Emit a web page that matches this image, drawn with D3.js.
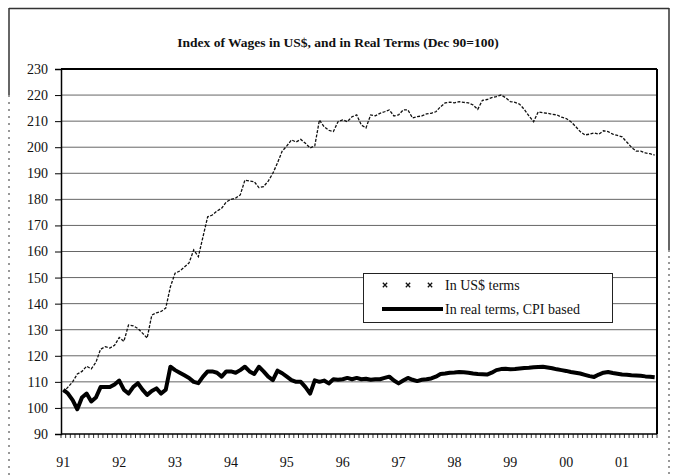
<!DOCTYPE html>
<html>
<head>
<meta charset="utf-8">
<script src="https://cdn.jsdelivr.net/npm/d3@7"></script>
<style>
  html, body { margin: 0; padding: 0; background: #ffffff; }
  svg { display: block; }
</style>
</head>
<body>
<div id="chart"></div>
<script>
// monthly index, Jan 91 .. Aug 01 (128 months)
const yearLabels = ["91", "92", "93", "94", "95", "96", "97", "98", "99", "00", "01"];
const yTicks = [90, 100, 110, 120, 130, 140, 150, 160, 170, 180, 190, 200, 210, 220, 230];

const usdIndex = [
  106, 108, 110, 113, 114, 116, 115, 117.5, 122.5, 123.5, 123, 124,
  127, 125.5, 131.8, 131.5, 130.5, 128.7, 126.8, 135.6, 136.5, 137, 138.3, 146.5,
  151.7, 152.5, 154, 155.6, 160.6, 158, 165.7, 173.3, 174, 175.5, 176.6, 179,
  180, 180.5, 181.7, 187.4, 187, 186.8, 184.5, 184.9, 187, 190, 194, 198.5,
  200.5, 202.8, 202, 203, 201.5, 199.7, 200.5, 210.4, 207.9, 206.5, 206, 209.8,
  210.5, 209.8, 211.7, 212.4, 208.5, 207.4, 212.4, 212, 213, 213.6, 214.3, 212,
  212.4, 214.3, 214.3, 211.2, 211.7, 212, 212.8, 213, 213.6, 215.5, 217, 217.3,
  217, 217.5, 217.2, 217, 216.2, 214.5, 218, 218.3, 219, 219.4, 220, 219,
  217.5, 217.2, 216.5, 214.5, 212, 209.8, 213.6, 213.2, 213, 212.6, 212.4, 211.5,
  211, 209.8, 208, 206, 204.7, 205, 205.5, 205, 206.3, 206, 205, 204.5,
  204, 202, 200, 198.5, 198.5, 197.8, 197.5, 197
];

const realIndex = [
  107, 105.5, 103, 99.5, 104, 105.5, 102.5, 104, 108, 108, 108, 109,
  110.5, 107, 105.5, 108, 109.5, 107, 105, 106.5, 107.5, 105.5, 107, 115.8,
  114.5, 113.5, 112.5, 111.5, 110, 109.5, 112, 114, 114, 113.5, 112, 114,
  114, 113.5, 114.5, 115.8, 114, 113, 115.8, 114, 112, 110.7, 114.3, 113.3,
  112, 110.7, 110, 110, 108, 105.5, 110.6, 110, 110.5, 109.4, 111, 110.8,
  111, 111.5, 111, 111.5, 111, 111.2, 110.8, 111, 111, 111.5, 112, 110.5,
  109.4, 110.5, 111.5, 110.8, 110.3, 110.8, 111, 111.3, 112, 113, 113.2, 113.5,
  113.6, 113.8, 113.7, 113.5, 113.2, 113, 112.9, 112.8, 113.5, 114.5, 114.9, 115,
  114.8, 114.9, 115.1, 115.3, 115.4, 115.6, 115.7, 115.8, 115.5, 115.2, 114.8, 114.5,
  114.2, 113.8, 113.5, 113.2, 112.7, 112.2, 111.9, 112.8, 113.5, 113.8, 113.4, 113.1,
  112.8, 112.7, 112.5, 112.4, 112.3, 112.1, 112, 111.8
];

const seriesNames = ["In US$ terms", "In real terms, CPI based"];

function makeChart(containerSelector) {
    const width = 676;
    const height = 475;
    const margin = { top: 69, right: 19, bottom: 41, left: 61 };
    const plotW = width - margin.left - margin.right;
    const plotH = height - margin.top - margin.bottom;
    const serif = "'Liberation Serif', 'Times New Roman', serif";

    d3.select(containerSelector).html("");

    const svg = d3.select(containerSelector)
        .append("svg")
        .attr("width", width)
        .attr("height", height)
        .attr("viewBox", `0 0 ${width} ${height}`);

    // outer frame (scanned look: solid at top, broken further down)
    const frame = svg.append("g").attr("stroke", "#333").attr("fill", "none");
    frame.append("line").attr("x1", 9).attr("x2", 669).attr("y1", 8.5).attr("y2", 8.5).attr("stroke-width", 1.5);
    frame.append("line").attr("x1", 9).attr("x2", 9).attr("y1", 8).attr("y2", 95).attr("stroke-width", 1.5);
    frame.append("line").attr("x1", 9).attr("x2", 9).attr("y1", 95).attr("y2", 475)
        .attr("stroke-width", 1).attr("stroke-dasharray", "2,5");
    frame.append("line").attr("x1", 669).attr("x2", 669).attr("y1", 8).attr("y2", 250).attr("stroke-width", 1.5);
    frame.append("line").attr("x1", 669).attr("x2", 669).attr("y1", 250).attr("y2", 475)
        .attr("stroke-width", 1).attr("stroke-dasharray", "2,4");

    // title
    svg.append("text")
        .attr("x", 338)
        .attr("y", 47)
        .attr("text-anchor", "middle")
        .attr("font-family", serif)
        .attr("font-weight", "bold")
        .attr("font-size", "13.5px")
        .attr("fill", "#111")
        .text("Index of Wages in US$, and in Real Terms (Dec 90=100)");

    const g = svg.append("g").attr("transform", `translate(${margin.left},${margin.top})`);

    // scales
    const x = d3.scaleBand()
        .domain(d3.range(usdIndex.length))
        .range([0, plotW]);
    const xc = i => x(i) + x.bandwidth() / 2;

    const y = d3.scaleLinear()
        .domain([90, 230])
        .range([plotH, 0]);

    // gridlines
    g.append("g")
        .selectAll("line")
        .data(yTicks.filter(v => v > 90 && v < 230))
        .join("line")
        .attr("x1", 0)
        .attr("x2", plotW)
        .attr("y1", d => y(d))
        .attr("y2", d => y(d))
        .attr("stroke", "#666")
        .attr("stroke-width", 1);

    // y axis
    const yAxis = g.append("g")
        .call(d3.axisLeft(y).tickValues(yTicks).tickSize(6).tickPadding(7).tickFormat(d3.format("d")));
    yAxis.select(".domain").attr("stroke", "#000").attr("stroke-width", 1.5);
    yAxis.selectAll(".tick line").attr("stroke", "#000");
    yAxis.selectAll("text")
        .attr("font-family", serif)
        .attr("font-size", "14px")
        .attr("fill", "#111");

    // x axis: a small tick every month, year labels under January
    const xAxisG = g.append("g").attr("transform", `translate(0,${plotH})`);
    xAxisG.append("line")
        .attr("x1", 0).attr("x2", plotW)
        .attr("stroke", "#000").attr("stroke-width", 1.5);
    xAxisG.selectAll(".mtick")
        .data(d3.range(usdIndex.length + 1))
        .join("line")
        .attr("class", "mtick")
        .attr("x1", d => d < usdIndex.length ? x(d) : plotW)
        .attr("x2", d => d < usdIndex.length ? x(d) : plotW)
        .attr("y1", 0)
        .attr("y2", 4)
        .attr("stroke", "#000")
        .attr("stroke-width", 0.8);
    xAxisG.selectAll(".ylab")
        .data(yearLabels)
        .join("text")
        .attr("class", "ylab")
        .attr("x", (d, i) => xc(i * 12))
        .attr("y", 33)
        .attr("text-anchor", "middle")
        .attr("font-family", serif)
        .attr("font-size", "14px")
        .attr("fill", "#111")
        .text(d => d);

    // plot frame: heavy top and right edges
    g.append("line").attr("x1", 0).attr("x2", plotW).attr("y1", 0).attr("y2", 0)
        .attr("stroke", "#000").attr("stroke-width", 2.2);
    g.append("line").attr("x1", plotW).attr("x2", plotW).attr("y1", 0).attr("y2", plotH)
        .attr("stroke", "#000").attr("stroke-width", 2);

    const line = d3.line()
        .x((d, i) => xc(i))
        .y(d => y(d));

    // US$ series: thin broken line
    g.append("path")
        .datum(usdIndex)
        .attr("fill", "none")
        .attr("stroke", "#111")
        .attr("stroke-width", 1.3)
        .attr("stroke-dasharray", "3,1.5")
        .attr("d", line);

    // real series: heavy line
    g.append("path")
        .datum(realIndex)
        .attr("fill", "none")
        .attr("stroke", "#000")
        .attr("stroke-width", 4)
        .attr("stroke-linejoin", "round")
        .attr("d", line);

    // legend
    const legend = svg.append("g").attr("transform", "translate(363,273)");
    legend.append("rect")
        .attr("x", 0.5).attr("y", 0.5)
        .attr("width", 249).attr("height", 49)
        .attr("fill", "#fff")
        .attr("stroke", "#222")
        .attr("stroke-width", 1);

    const markSym = d3.symbol().type(d3.symbolX).size(14);
    legend.selectAll(".umark")
        .data([22, 45, 67])
        .join("path")
        .attr("class", "umark")
        .attr("transform", d => `translate(${d},12)`)
        .attr("d", markSym)
        .attr("stroke", "#111")
        .attr("stroke-width", 1.3)
        .attr("fill", "none");
    legend.append("line")
        .attr("x1", 19).attr("x2", 80)
        .attr("y1", 36).attr("y2", 36)
        .attr("stroke", "#000")
        .attr("stroke-width", 4);

    legend.selectAll(".ltxt")
        .data(seriesNames)
        .join("text")
        .attr("class", "ltxt")
        .attr("x", 82)
        .attr("y", (d, i) => 17 + i * 24)
        .attr("font-family", serif)
        .attr("font-size", "14px")
        .attr("fill", "#111")
        .text(d => d);

    return svg.node();
}

makeChart("#chart");
</script>
</body>
</html>
